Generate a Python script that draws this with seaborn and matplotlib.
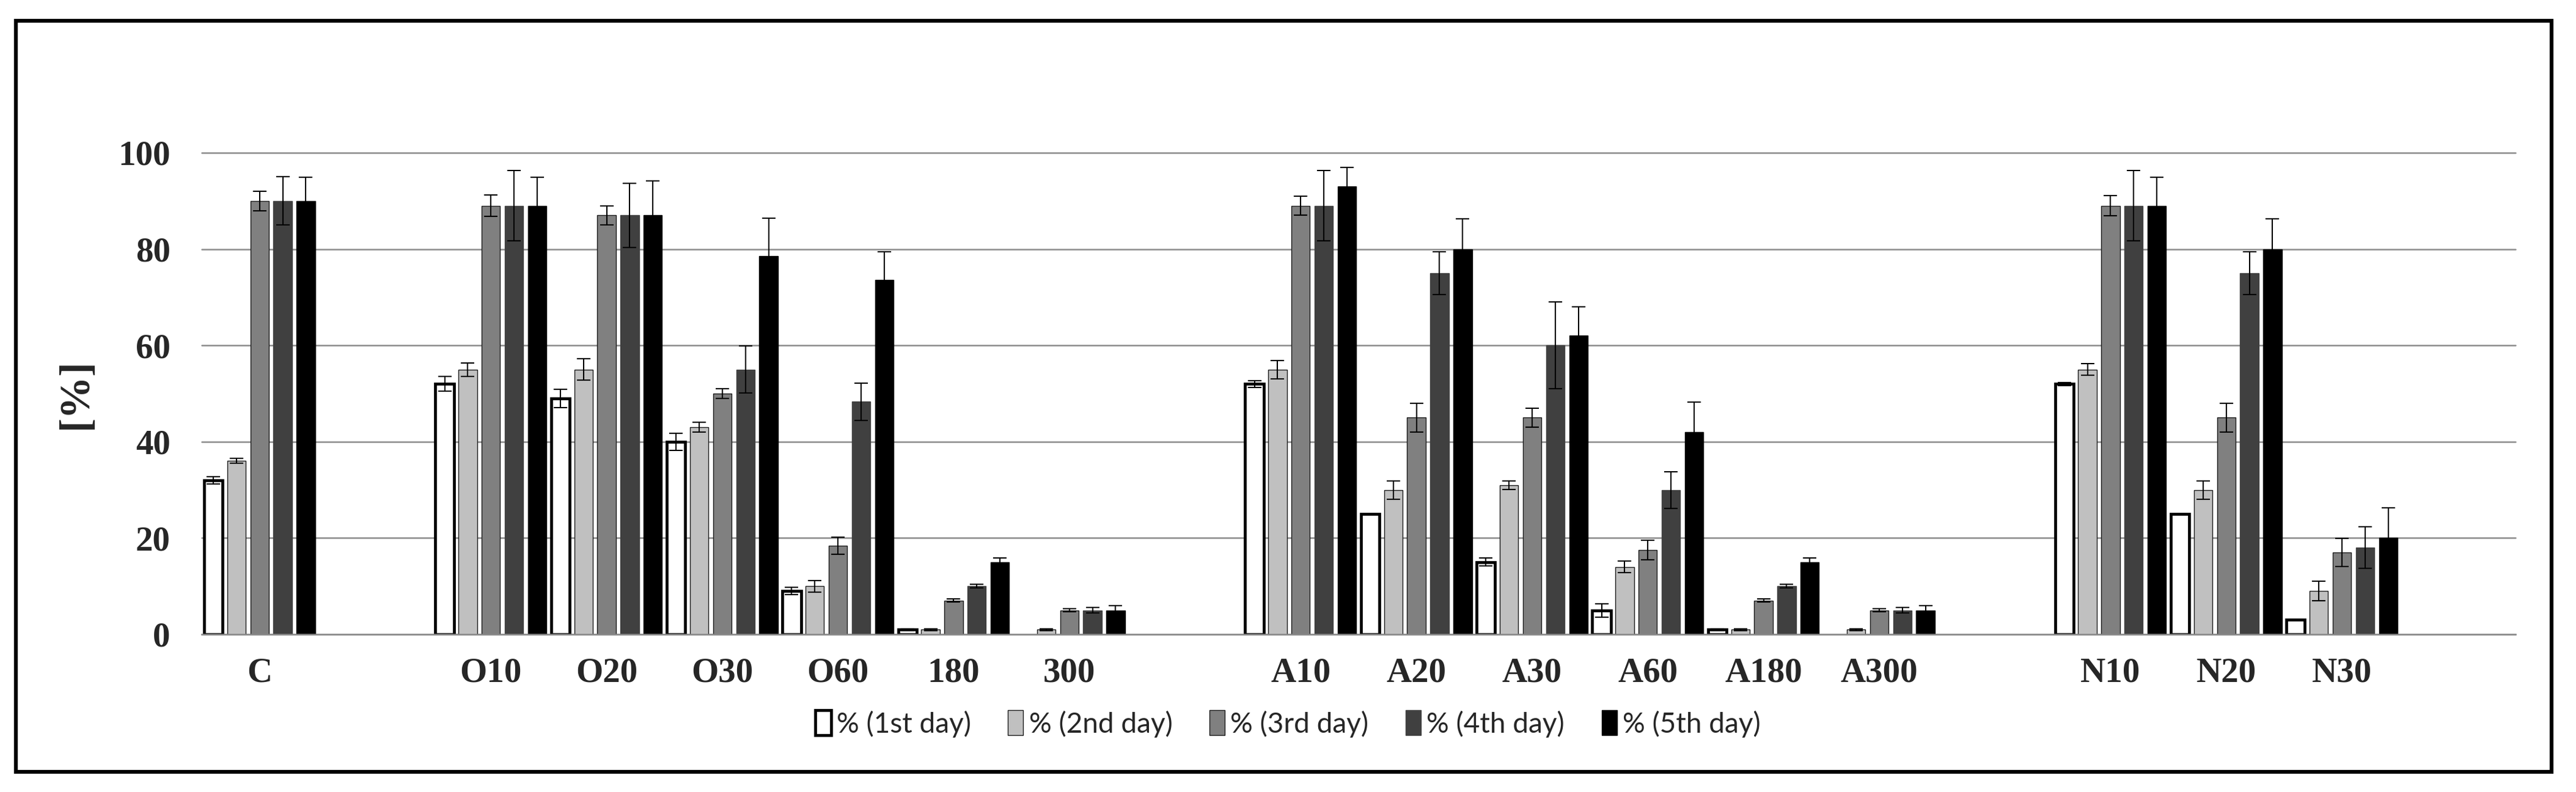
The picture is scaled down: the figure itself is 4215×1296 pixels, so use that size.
import numpy as np
import pandas as pd
import matplotlib
matplotlib.use("Agg")
import matplotlib.pyplot as plt
import seaborn as sns
from matplotlib.patches import Rectangle, Patch

# ---------------- data ----------------
categories = ["C", " ", "O10", "O20", "O30", "O60", "180", "300", "  ",
              "A10", "A20", "A30", "A60", "A180", "A300", "   ",
              "N10", "N20", "N30", "    "]
groups = ["C", "O10", "O20", "O30", "O60", "180", "300",
          "A10", "A20", "A30", "A60", "A180", "A300",
          "N10", "N20", "N30"]
days = ["% (1st day)", "% (2nd day)", "% (3rd day)", "% (4th day)", "% (5th day)"]

day1 = [32, 52, 49, 40, 9, 1, np.nan, 52, 25, 15, 5, 1, np.nan, 52, 25, 3]
day2 = [36, 55, 55, 43, 10, 1, 1, 55, 30, 31, 14, 1, 1, 55, 30, 9]
day3 = [90, 89, 87, 50, 18.4, 7, 5, 89, 45, 45, 17.5, 7, 5, 89, 45, 17]
day4 = [90, 89, 87, 55, 48.3, 10, 5, 89, 75, 60, 30, 10, 5, 89, 75, 18]
day5 = [90, 89, 87, 78.5, 73.6, 15, 5, 93, 80, 62, 42, 15, 5, 89, 80, 20]

err1 = [0.8, 1.5, 1.9, 1.8, 0.8, 0.2, 0, 0.7, 0, 0.8, 1.4, 0.2, 0, 0.3, 0, 0]
err2 = [0.5, 1.4, 2.2, 1.0, 1.2, 0.2, 0.2, 1.9, 1.9, 0.9, 1.2, 0.2, 0.2, 1.2, 1.9, 2.0]
err3 = [2.0, 2.2, 2.0, 1.0, 1.8, 0.3, 0.3, 2.0, 3.0, 2.0, 2.0, 0.3, 0.3, 2.1, 3.0, 2.9]
err4 = [5.0, 7.3, 6.7, 4.9, 3.9, 0.4, 0.6, 7.3, 4.4, 9.0, 3.8, 0.4, 0.6, 7.3, 4.4, 4.3]
err5 = [4.9, 5.9, 7.1, 7.9, 5.9, 0.8, 0.9, 4.0, 6.3, 6.0, 6.2, 0.8, 0.9, 5.9, 6.3, 6.3]

yticks = [0, 20, 40, 60, 80, 100]

# ---------------- styles ----------------
fills = ["#ffffff", "#c0c0c0", "#808080", "#404040", "#000000"]
edges = ["#000000", "#1a1a1a", "#1a1a1a", "#404040", "#000000"]
edge_w = [3.4, 1.0, 1.0, 1.0, 1.0]

values = [day1, day2, day3, day4, day5]
errors = [err1, err2, err3, err4, err5]

rows = []
for d, vals in zip(days, values):
    for g, v in zip(groups, vals):
        if not np.isnan(v):
            rows.append({"cat": g, "val": v, "day": d})
df = pd.DataFrame(rows)
err_lookup = {(d, g): e for d, errs in zip(days, errors) for g, e in zip(groups, errs)}

sns.set_theme(style="white")
plt.rcParams["font.family"] = ["Liberation Serif", "DejaVu Serif"]

fig = plt.figure(figsize=(42.15, 12.96), dpi=100)
ax = fig.add_axes([0.0783, 0.1991, 0.8982, 0.6080])

sns.barplot(data=df, x="cat", y="val", hue="day", order=categories,
            hue_order=days, palette=fills, width=1.0, gap=0.2,
            errorbar=None, legend=False, ax=ax, saturation=1)

bar_containers = list(ax.containers)
for i, cont in enumerate(bar_containers):
    d = days[i]
    xs, ys, es = [], [], []
    for bar in cont:
        bar.set_facecolor(fills[i])
        bar.set_edgecolor(edges[i])
        bar.set_linewidth(edge_w[i])
        h = bar.get_height()
        if np.isnan(h):
            continue
        cx = bar.get_x() + bar.get_width() / 2
        cat = categories[int(round(cx))]
        xs.append(cx)
        ys.append(h)
        es.append(err_lookup.get((d, cat), 0))
    ax.errorbar(xs, ys, yerr=es, fmt="none", ecolor="black",
                elinewidth=1.5, capsize=8, capthick=1.5, zorder=5)

ax.set_xlim(-0.5, len(categories) - 0.5)
ax.set_ylim(0, 100)
ax.set_yticks(yticks)
ax.yaxis.grid(True, color="#8c8c8c", linewidth=1.8)
ax.set_axisbelow(True)
for s in ["top", "left", "right"]:
    ax.spines[s].set_visible(False)
ax.spines["bottom"].set_color("#8c8c8c")
ax.spines["bottom"].set_linewidth(1.8)
for gl in ax.get_ygridlines():
    gl.set_clip_on(False)

ax.set_xlabel("")
ax.set_ylabel("[%]", fontsize=50, fontweight="bold", labelpad=26)
ax.tick_params(axis="x", length=0, pad=27, labelsize=41)
ax.tick_params(axis="y", length=0, pad=37, labelsize=41)
for lab in ax.get_xticklabels() + ax.get_yticklabels():
    lab.set_fontweight("bold")

handles = [Patch(facecolor=f, edgecolor=e, linewidth=w)
           for f, e, w in zip(fills, edges, edge_w)]
leg = fig.legend(handles, days, loc="center", bbox_to_anchor=(0.500, 0.086),
                 ncol=5, frameon=False, handlelength=0.55, handleheight=1.0,
                 handletextpad=0.2, columnspacing=1.32,
                 prop={"family": ["Lato", "DejaVu Sans"], "size": 33})

fig.patches.append(Rectangle((0.0062, 0.0255), 0.9843, 0.9485,
                             transform=fig.transFigure, fill=False,
                             linewidth=4.5, edgecolor="black"))

fig.savefig("out.png", dpi=100, facecolor="white")
